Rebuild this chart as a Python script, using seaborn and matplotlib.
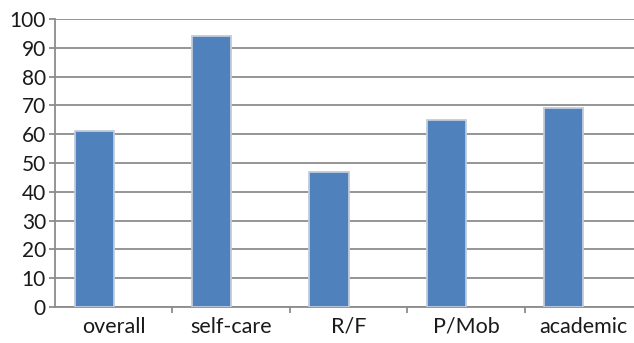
import matplotlib
matplotlib.use("Agg")
import matplotlib.pyplot as plt
import seaborn as sns
import pandas as pd
import numpy as np

categories = ["overall", "self-care", "R/F", "P/Mob", "academic"]
scores = [61, 94, 47, 65, 69]
y_ticks = [0, 10, 20, 30, 40, 50, 60, 70, 80, 90, 100]

sns.set_style("white")
plt.rcParams["font.family"] = ["Lato", "DejaVu Sans"]

# Two series per category: the scores plus an empty companion series,
# so each bar sits in the left half of its category slot.
df = pd.DataFrame({
    "category": categories * 2,
    "series": ["score"] * len(categories) + ["blank"] * len(categories),
    "value": scores + [np.nan] * len(categories),
})

fig = plt.figure(figsize=(6.34, 3.43), dpi=100)
ax = fig.add_axes([55 / 634, 36 / 343, 587 / 634, 288 / 343])

sns.barplot(data=df, x="category", y="value", hue="series",
            hue_order=["score", "blank"], order=categories,
            palette=["#4F81BD", "#4F81BD"], saturation=1, width=0.667,
            edgecolor="#C3CCDA", linewidth=1.3, legend=False,
            errorbar=None, ax=ax, zorder=3)

ax.set_ylim(0, 100)
ax.set_xlim(-0.5, len(categories) - 0.5)
ax.set_yticks(y_ticks)
ax.set_xlabel("")
ax.set_ylabel("")

ax.yaxis.grid(True, color="#8C8C8C", linewidth=1.3, zorder=0)
ax.set_axisbelow(True)

for side in ("top", "right"):
    ax.spines[side].set_visible(False)
for side in ("left", "bottom"):
    ax.spines[side].set_color("#8C8C8C")
    ax.spines[side].set_linewidth(1.3)

ax.tick_params(axis="y", which="major", direction="out", length=4.5,
               width=1.3, color="#8C8C8C", labelsize=15,
               labelcolor="#1A1A1A", pad=2, left=True)
ax.set_xticks(np.arange(len(categories)))
ax.set_xticklabels(categories)
ax.set_xticks(np.arange(len(categories)) + 0.5, minor=True)
ax.tick_params(axis="x", which="major", length=0, labelsize=15.5,
               labelcolor="#1A1A1A", pad=7)
ax.tick_params(axis="x", which="minor", direction="out", length=4,
               width=1.3, color="#8C8C8C", bottom=True)

fig.savefig("out.png", dpi=100)
